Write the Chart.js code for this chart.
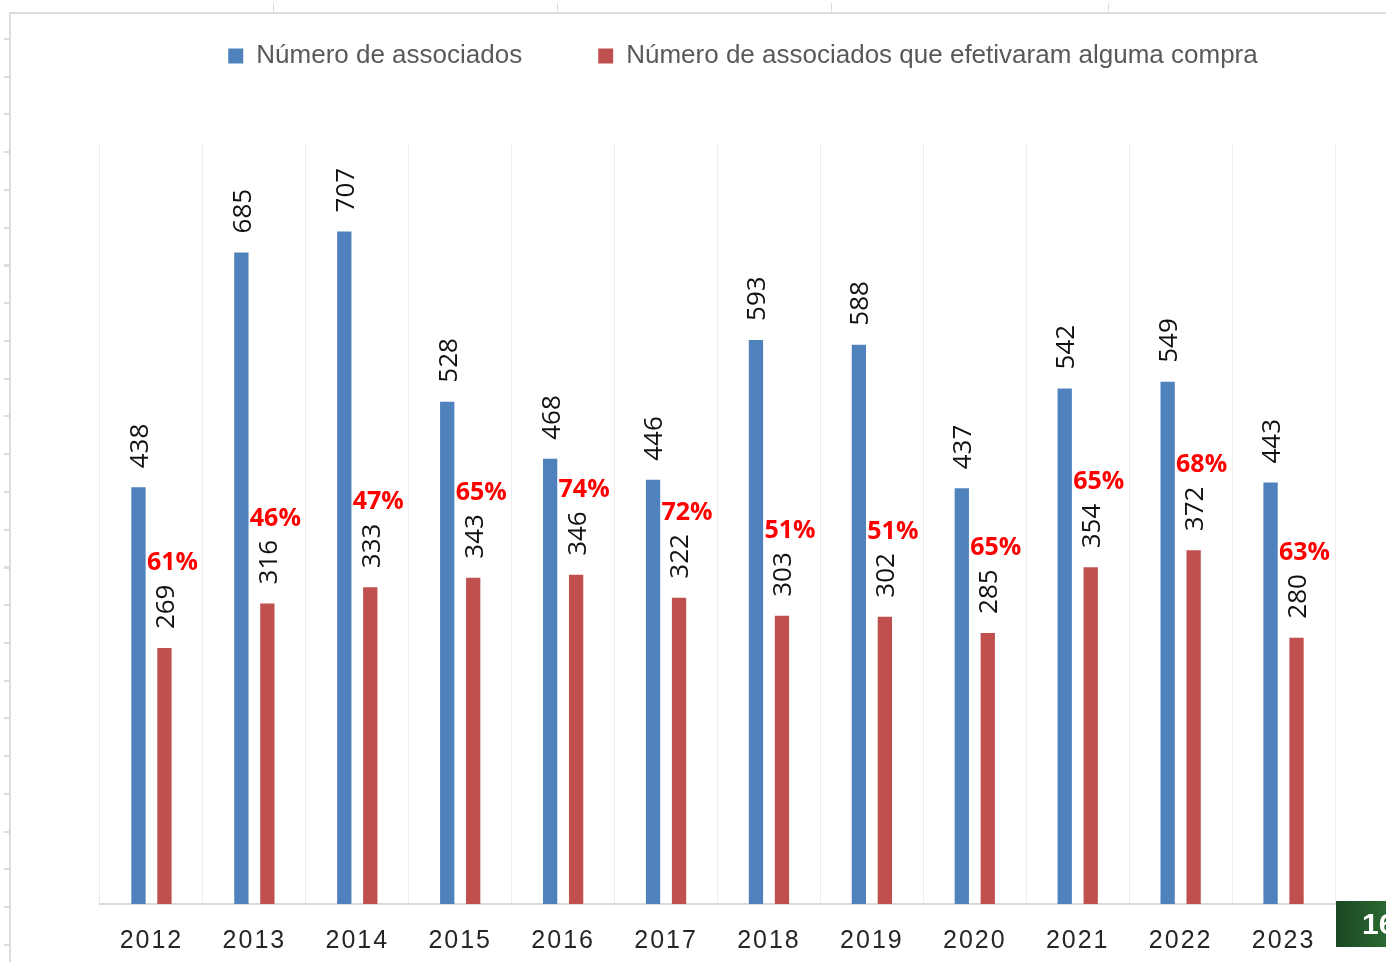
<!DOCTYPE html>
<html>
<head>
<meta charset="utf-8">
<title>Associados</title>
<script src="https://cdn.jsdelivr.net/npm/chart.js@4/dist/chart.umd.min.js"></script>
<style>
  html, body { margin: 0; padding: 0; background: #fff; }
  #wrap { position: relative; width: 1386px; height: 962px; overflow: hidden; }
  #chart { position: absolute; left: 0; top: 0; z-index: 1; }
  .line { position: absolute; background: #dcdcdc; z-index: 0; }
  #leftTicks {
    position: absolute; left: 4px; top: 38px; width: 6px; height: 924px; z-index: 0;
    background: repeating-linear-gradient(to bottom, #dcdcdc 0, #dcdcdc 2px, transparent 2px, transparent 37.75px);
  }
  #slide {
    position: absolute; left: 1336px; top: 901px; width: 50px; height: 46px; z-index: 2;
    background: linear-gradient(to right, #1a4722, #2a6831);
    color: #fff; font: bold 30px "Liberation Sans", Arial, sans-serif;
    line-height: 46px; padding-left: 26px; box-sizing: border-box; white-space: nowrap;
  }
</style>
</head>
<body>
<div id="wrap">
  <div class="line" style="left:9px;top:12px;width:2px;height:950px"></div>
  <div class="line" style="left:9px;top:12px;width:1377px;height:2px"></div>
  <div id="leftTicks"></div>
  <div class="line" style="left:273px;top:3px;width:1px;height:10px"></div>
  <div class="line" style="left:557px;top:3px;width:1px;height:10px"></div>
  <div class="line" style="left:831px;top:3px;width:1px;height:10px"></div>
  <div class="line" style="left:1108px;top:3px;width:1px;height:10px"></div>
  <canvas id="chart" width="1386" height="962"></canvas>
  <div id="slide">16</div>
</div>
<script>
// data
const years = ['2012', '2013', '2014', '2015', '2016', '2017', '2018', '2019', '2020', '2021', '2022', '2023'];
const associados = [438, 685, 707, 528, 468, 446, 593, 588, 437, 542, 549, 443];
const compraram = [269, 316, 333, 343, 346, 322, 303, 302, 285, 354, 372, 280];
const percentuais = ['61%', '46%', '47%', '65%', '74%', '72%', '51%', '51%', '65%', '65%', '68%', '63%'];

const blue = '#4f81bd';
const red = '#c0504d';

// extra room between the legend and the plot
const legendGap = {
    id: 'legendGap',
    beforeLayout(chart) {
        const lg = chart.legend;
        if (lg && !lg._gap) {
            const fit = lg.fit;
            lg.fit = function () {
                fit.call(this);
                this.height += 64;
            };
            lg._gap = true;
        }
    }
};

// spaced-out year labels
const spacedTicks = {
    id: 'spacedTicks',
    beforeDraw(chart) {
        const s = chart.scales.x;
        if (s && !s._spaced) {
            const orig = s.drawLabels;
            s.drawLabels = function (area) {
                this.ctx.save();
                this.ctx.letterSpacing = '2px';
                orig.call(this, area);
                this.ctx.restore();
            };
            s._spaced = true;
        }
    }
};

// rotated value labels + red percentages
const valueLabels = {
    id: 'valueLabels',
    afterDatasetsDraw(chart) {
        const ctx = chart.ctx;
        chart.data.datasets.forEach(function (ds, i) {
            const meta = chart.getDatasetMeta(i);
            meta.data.forEach(function (bar, j) {
                ctx.save();
                ctx.font = '26px "Open Sans", sans-serif';
                ctx.fillStyle = '#111';
                ctx.textAlign = 'left';
                ctx.textBaseline = 'middle';
                ctx.translate(bar.x + 2, bar.y - 19);
                ctx.rotate(-Math.PI / 2);
                ctx.fillText(String(ds.data[j]), 0, 0);
                ctx.restore();

                if (i === 1) {
                    ctx.save();
                    ctx.font = 'bold 25px "Open Sans", sans-serif';
                    ctx.fillStyle = '#ff0000';
                    ctx.textAlign = 'center';
                    ctx.textBaseline = 'middle';
                    ctx.fillText(percentuais[j], bar.x + 8, bar.y - 85);
                    ctx.restore();
                }
            });
        });
    }
};

const ctx = document.getElementById('chart').getContext('2d');
const chart = new Chart(ctx, {
    type: 'bar',
    data: {
        labels: years,
        datasets: [{
            label: 'Número de associados',
            data: associados,
            backgroundColor: blue,
            categoryPercentage: 0.505,
            barPercentage: 0.55
        }, {
            label: 'Número de associados que efetivaram alguma compra',
            data: compraram,
            backgroundColor: red,
            categoryPercentage: 0.505,
            barPercentage: 0.55
        }]
    },
    options: {
        responsive: false,
        animation: false,
        devicePixelRatio: 1,
        layout: {
            padding: { left: 100, right: 0, top: -33, bottom: -16 }
        },
        plugins: {
            legend: {
                position: 'top',
                labels: {
                    boxWidth: 15,
                    boxHeight: 15,
                    padding: 76,
                    color: '#595959',
                    font: { family: '"Liberation Sans", Arial, sans-serif', size: 26 }
                }
            },
            tooltip: { enabled: false }
        },
        scales: {
            x: {
                grid: { color: '#ececec', lineWidth: 1, drawTicks: false, offset: true },
                border: { color: '#d9d9d9', width: 2 },
                ticks: {
                    color: '#262626',
                    padding: 22,
                    font: { family: '"Liberation Sans", Arial, sans-serif', size: 25 }
                }
            },
            y: {
                position: 'right',
                min: 0,
                max: 800,
                grid: { display: false },
                border: { display: false },
                ticks: { display: false },
                afterFit(s) { s.width = 51; }
            }
        }
    },
    plugins: [legendGap, spacedTicks, valueLabels]
});
</script>
</body>
</html>
